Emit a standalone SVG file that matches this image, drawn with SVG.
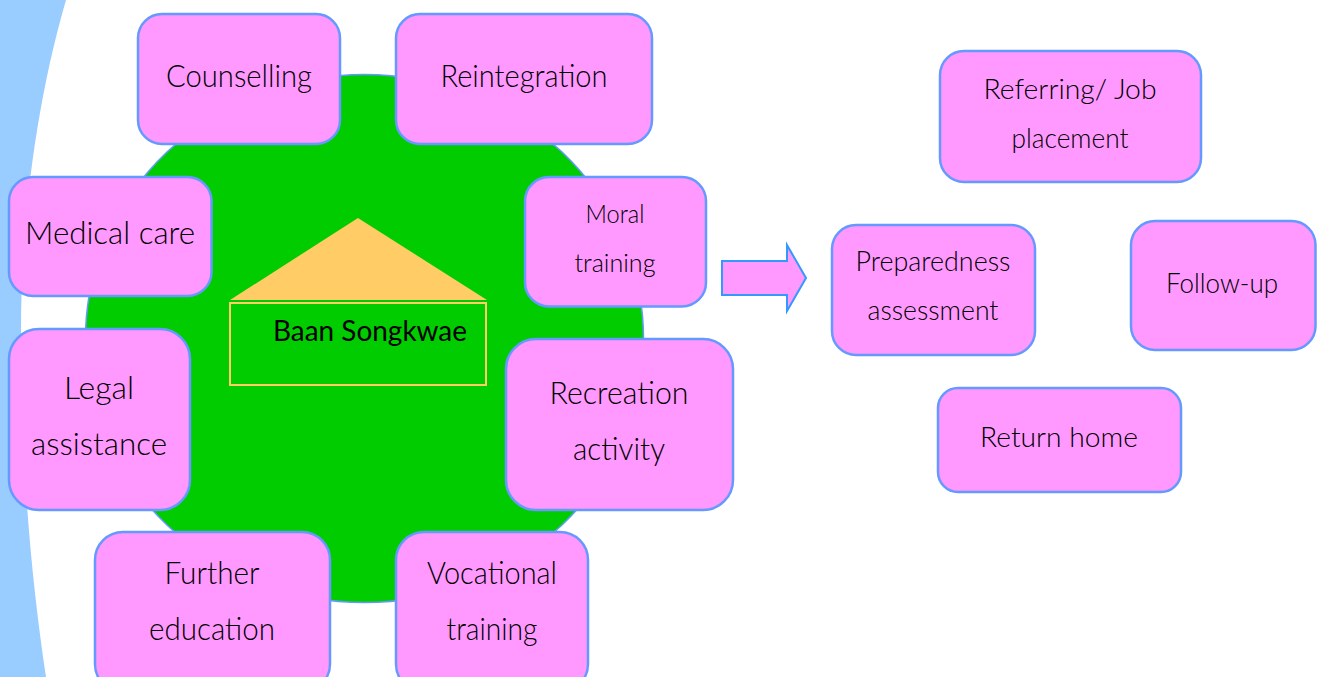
<svg xmlns="http://www.w3.org/2000/svg" width="1320" height="677" viewBox="0 0 1320 677">
<style>
.n{fill:#ff99ff;stroke:#6699ff;stroke-width:2.500}
text{font-family:"Lato","Noto Sans",sans-serif;font-weight:300;fill:#000;text-anchor:middle}
.a{font-size:31px}.b{font-size:28px}.c{font-size:26px}
.h{font-weight:400}
</style>
<rect width="1320" height="677" fill="#fff"/>
<path id="band" d="M0 0H66C34 110 21 230 21 330C21 460 30 570 46 677H0Z" fill="#99ccff"/>
<ellipse id="disc" cx="364.500" cy="338.500" rx="279" ry="264" fill="#00cc00" stroke="#6699ff" stroke-width="1.500"/>
<g id="house">
<polygon points="230,300 358,218 487,300" fill="#ffcc66"/>
<rect x="230" y="303" width="256" height="82" fill="none" stroke="#ffcc66" stroke-width="2"/>
<text x="370" y="341" class="b h" textLength="194" lengthAdjust="spacingAndGlyphs">Baan Songkwae</text>
</g>
<g id="counselling"><rect class="n" x="138" y="14" width="202" height="130" rx="24"/><text x="239" y="87" class="a" textLength="146" lengthAdjust="spacingAndGlyphs">Counselling</text></g>
<g id="reintegration"><rect class="n" x="396" y="14" width="256" height="130" rx="24"/><text x="524" y="87" class="a" textLength="167" lengthAdjust="spacingAndGlyphs">Reintegration</text></g>
<g id="medical"><rect class="n" x="9" y="177" width="202.500" height="119" rx="24"/><text x="110" y="244" class="a" textLength="170" lengthAdjust="spacingAndGlyphs">Medical care</text></g>
<g id="moral"><rect class="n" x="525" y="177" width="181" height="129.500" rx="24"/><text x="615" y="223" class="c" textLength="59" lengthAdjust="spacingAndGlyphs">Moral</text><text x="615" y="272" class="c" textLength="81" lengthAdjust="spacingAndGlyphs">training</text></g>
<g id="legal"><rect class="n" x="9" y="329" width="181" height="181" rx="30"/><text x="99" y="399" class="a" textLength="70" lengthAdjust="spacingAndGlyphs">Legal</text><text x="99" y="455" class="a" textLength="136" lengthAdjust="spacingAndGlyphs">assistance</text></g>
<g id="recreation"><rect class="n" x="506" y="339" width="227" height="171" rx="30"/><text x="619" y="404" class="a" textLength="139" lengthAdjust="spacingAndGlyphs">Recreation</text><text x="619" y="460" class="a" textLength="92" lengthAdjust="spacingAndGlyphs">activity</text></g>
<g id="further"><rect class="n" x="95" y="532" width="235" height="160" rx="28"/><text x="212" y="584" class="a" textLength="95" lengthAdjust="spacingAndGlyphs">Further</text><text x="212" y="640" class="a" textLength="126" lengthAdjust="spacingAndGlyphs">education</text></g>
<g id="vocational"><rect class="n" x="396" y="532" width="192" height="160" rx="28"/><text x="492" y="584" class="a" textLength="130" lengthAdjust="spacingAndGlyphs">Vocational</text><text x="492" y="640" class="a" textLength="91" lengthAdjust="spacingAndGlyphs">training</text></g>
<g id="connectors"><polygon points="722,261 787,261 787,245 806,278 787,311 787,295 722,295" fill="#ff99ff" stroke="#3399ff" stroke-width="2"/></g>
<g id="referring"><rect class="n" x="940" y="51" width="261" height="131" rx="24"/><text x="1070" y="99" class="b" textLength="173" lengthAdjust="spacingAndGlyphs">Referring/ Job</text><text x="1070" y="148" class="b" textLength="117" lengthAdjust="spacingAndGlyphs">placement</text></g>
<g id="preparedness"><rect class="n" x="832" y="225" width="203" height="130" rx="24"/><text x="933" y="271" class="b" textLength="155" lengthAdjust="spacingAndGlyphs">Preparedness</text><text x="933" y="320" class="b" textLength="131" lengthAdjust="spacingAndGlyphs">assessment</text></g>
<g id="followup"><rect class="n" x="1131" y="221" width="184.500" height="129" rx="24"/><text x="1222" y="293" class="b" textLength="112" lengthAdjust="spacingAndGlyphs">Follow-up</text></g>
<g id="return"><rect class="n" x="938" y="388" width="243" height="104" rx="20"/><text x="1059" y="447" class="b" textLength="158" lengthAdjust="spacingAndGlyphs">Return home</text></g>
</svg>
